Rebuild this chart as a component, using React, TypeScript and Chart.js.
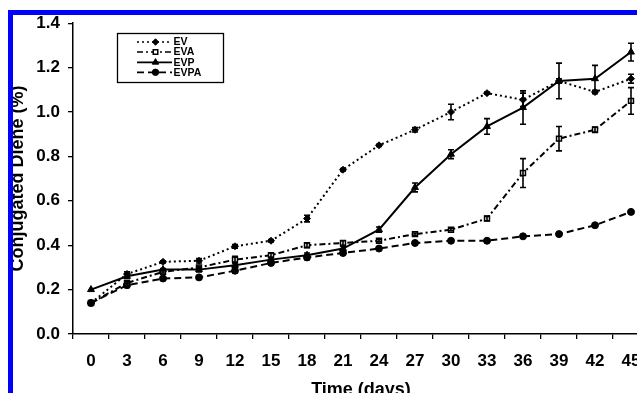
import React, { useEffect, useRef } from "react";
import { Chart, registerables } from "chart.js";
import { drawPoint } from "chart.js/helpers";

Chart.register(...registerables);

const DAYS = ["0", "3", "6", "9", "12", "15", "18", "21", "24", "27", "30", "33", "36", "39", "42", "45"];

const EV = [0.14, 0.27, 0.325, 0.33, 0.395, 0.42, 0.52, 0.74, 0.85, 0.92, 1.0, 1.085, 1.055, 1.14, 1.09, 1.15];
const EVA = [0.14, 0.23, 0.28, 0.3, 0.335, 0.355, 0.4, 0.41, 0.42, 0.45, 0.47, 0.52, 0.725, 0.88, 0.92, 1.05];
const EVP = [0.2, 0.26, 0.29, 0.29, 0.31, 0.335, 0.355, 0.385, 0.47, 0.66, 0.81, 0.935, 1.02, 1.14, 1.15, 1.27];
const EVPA = [0.14, 0.22, 0.25, 0.255, 0.285, 0.32, 0.345, 0.365, 0.385, 0.41, 0.42, 0.42, 0.44, 0.45, 0.49, 0.55];

const EV_ERR = [0, 0.01, 0.005, 0.01, 0.008, 0.005, 0.015, 0.005, 0.005, 0.01, 0.035, 0.005, 0.03, 0.01, 0.008, 0.02];
const EVA_ERR = [0, 0.005, 0.005, 0.005, 0.015, 0.01, 0.01, 0.01, 0.005, 0.005, 0.005, 0.01, 0.065, 0.055, 0.012, 0.06];
const EVP_ERR = [0, 0.01, 0.005, 0.01, 0.01, 0.01, 0.01, 0.01, 0.012, 0.02, 0.02, 0.035, 0.075, 0.08, 0.06, 0.04];
const EVPA_ERR = [0, 0.01, 0.005, 0.005, 0.01, 0.01, 0.01, 0.008, 0.005, 0.005, 0.005, 0.005, 0.005, 0.005, 0.005, 0.005];

const SERIES_NAMES = ["EV", "EVA", "EVP", "EVPA"];
const Y_TICKS = [0, 0.2, 0.4, 0.6, 0.8, 1.0, 1.2, 1.4];

const ERRORS = [EV_ERR, EVA_ERR, EVP_ERR, EVPA_ERR];
const FONT = "'Liberation Sans', Arial, sans-serif";

const CANVAS_W = 660;
const CANVAS_H = 410;

const errorBarsPlugin = {
  id: "errorBars",
  afterDatasetsDraw(chart: any) {
    const ctx = chart.ctx;
    const ys = chart.scales.y;
    ctx.save();
    ctx.strokeStyle = "#000";
    ctx.lineWidth = 1.6;
    ctx.setLineDash([]);
    chart.data.datasets.forEach((ds: any, di: number) => {
      const meta = chart.getDatasetMeta(di);
      const errs = ERRORS[di];
      meta.data.forEach((pt: any, i: number) => {
        const e = errs[i];
        if (!e) return;
        const v = ds.data[i];
        const y1 = ys.getPixelForValue(v + e);
        const y2 = ys.getPixelForValue(v - e);
        const x = pt.x;
        ctx.beginPath();
        ctx.moveTo(x, y1);
        ctx.lineTo(x, y2);
        ctx.moveTo(x - 3, y1);
        ctx.lineTo(x + 3, y1);
        ctx.moveTo(x - 3, y2);
        ctx.lineTo(x + 3, y2);
        ctx.stroke();
      });
    });
    ctx.restore();
  },
};

const legendPlugin = {
  id: "customLegend",
  afterDraw(chart: any) {
    const ctx = chart.ctx;
    ctx.save();
    ctx.strokeStyle = "#000";
    ctx.lineWidth = 1.3;
    ctx.setLineDash([]);
    ctx.fillStyle = "#fff";
    ctx.fillRect(114.5, 28.5, 106, 49);
    ctx.strokeRect(114.5, 28.5, 106, 49);
    const rows = [37, 47, 57.3, 67.3];
    chart.data.datasets.forEach((ds: any, i: number) => {
      const y = rows[i];
      ctx.strokeStyle = "#000";
      ctx.lineWidth = 1.7;
      ctx.setLineDash(ds.borderDash || []);
      ctx.beginPath();
      ctx.moveTo(134, y);
      ctx.lineTo(169, y);
      ctx.stroke();
      ctx.setLineDash([]);
      ctx.fillStyle = ds.pointBackgroundColor;
      ctx.strokeStyle = "#000";
      ctx.lineWidth = ds.pointBorderWidth;
      drawPoint(ctx, { pointStyle: ds.pointStyle, rotation: 0, radius: ds.pointRadius - 0.3, borderWidth: ds.pointBorderWidth }, 152.5, y);
      ctx.fillStyle = "#000";
      ctx.font = `bold 10.5px ${FONT}`;
      ctx.textBaseline = "middle";
      ctx.textAlign = "left";
      ctx.fillText(ds.label, 170.5, y + 0.5);
    });
    ctx.restore();
  },
};

export default function App() {
  const ref = useRef<HTMLCanvasElement | null>(null);

  useEffect(() => {
    if (!ref.current) return;
    const common = {
      borderColor: "#000",
      borderWidth: 2,
      pointBorderColor: "#000",
      tension: 0,
      fill: false,
    };
    const chart = new Chart(ref.current, {
      type: "line",
      data: {
        labels: DAYS,
        datasets: [
          { ...common, label: SERIES_NAMES[0], data: EV, borderDash: [2, 3], pointStyle: "rectRot", pointRadius: 3.5, pointBackgroundColor: "#000", pointBorderWidth: 1 },
          { ...common, label: SERIES_NAMES[1], data: EVA, borderDash: [6, 3, 2, 3], pointStyle: "rect", pointRadius: 3.5, pointBackgroundColor: "#fff", pointBorderWidth: 1.5 },
          { ...common, label: SERIES_NAMES[2], data: EVP, borderDash: [], pointStyle: "triangle", pointRadius: 4, pointBackgroundColor: "#000", pointBorderWidth: 1 },
          { ...common, label: SERIES_NAMES[3], data: EVPA, borderDash: [7, 4], pointStyle: "circle", pointRadius: 3.5, pointBackgroundColor: "#000", pointBorderWidth: 1 },
        ],
      },
      options: {
        responsive: false,
        animation: false,
        devicePixelRatio: 1,
        layout: { padding: { left: 0, top: 14, right: CANVAS_W - 646, bottom: 0 } },
        plugins: {
          legend: { display: false },
          tooltip: { enabled: false },
          title: { display: false },
        },
        scales: {
          x: {
            type: "category",
            offset: true,
            grid: { display: true, drawOnChartArea: false, drawTicks: true, tickLength: 5, offset: true, color: "#000", lineWidth: 1.3 },
            border: { display: true, color: "#000", width: 1.5 },
            ticks: { color: "#000", font: { family: FONT, size: 17, weight: "bold" }, padding: 12, maxRotation: 0, autoSkip: false },
            title: { display: true, text: "Time (days)", color: "#000", font: { family: FONT, size: 18, weight: "bold" }, padding: { top: 0, bottom: 14 } },
            afterFit: (s: any) => { s.height = CANVAS_H - 329; },
          },
          y: {
            min: 0,
            max: 1.4,
            afterBuildTicks: (s: any) => { s.ticks = Y_TICKS.map((v) => ({ value: v })); },
            grid: { display: true, drawOnChartArea: false, drawTicks: true, tickLength: 5, color: "#000", lineWidth: 1.3 },
            border: { display: true, color: "#000", width: 1.5 },
            ticks: { color: "#000", font: { family: FONT, size: 17, weight: "bold" }, padding: 8, callback: (v: any) => Number(v).toFixed(1) },
            title: { display: true, text: "Conjugated Diene (%)", color: "#000", font: { family: FONT, size: 18, weight: "bold" }, padding: { top: 4, bottom: 0 } },
            afterFit: (s: any) => { s.width = 70; },
          },
        },
      },
      plugins: [errorBarsPlugin, legendPlugin],
    } as any);
    return () => chart.destroy();
  }, []);

  return (
    <div
      style={{
        position: "fixed",
        left: 8,
        top: 10,
        width: 629,
        height: 383,
        boxSizing: "border-box",
        borderLeft: "5px solid #0000ff",
        borderTop: "5px solid #0000ff",
        overflow: "hidden",
        background: "#fff",
      }}
    >
      <canvas
        ref={ref}
        width={CANVAS_W}
        height={CANVAS_H}
        style={{ position: "absolute", left: -10, top: -10, width: CANVAS_W, height: CANVAS_H }}
      />
    </div>
  );
}
